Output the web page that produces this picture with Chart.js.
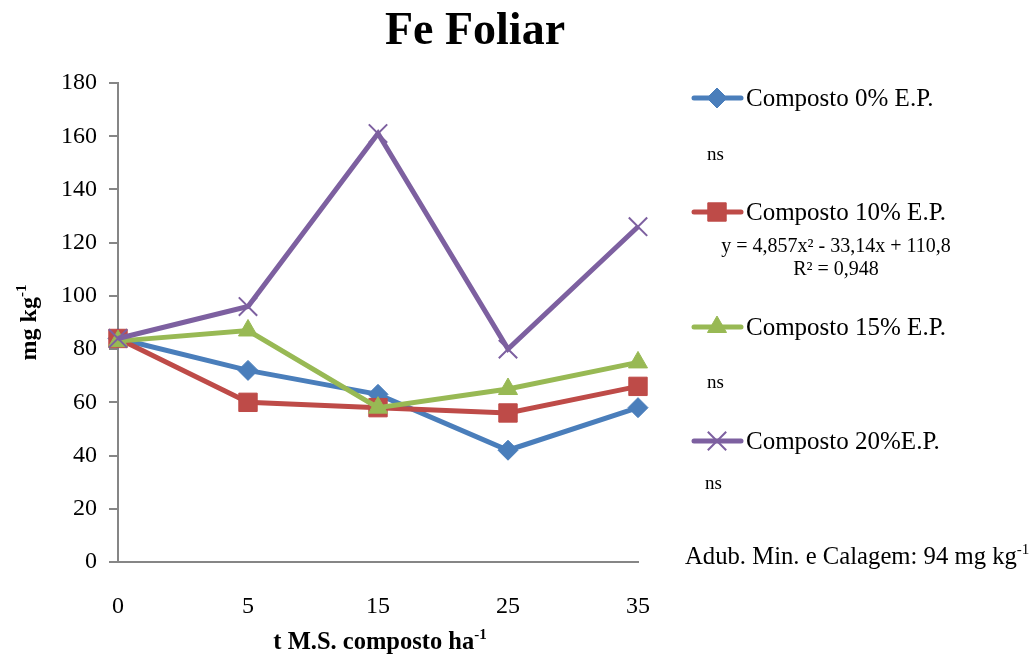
<!DOCTYPE html>
<html>
<head>
<meta charset="utf-8">
<title>Fe Foliar</title>
<script src="https://cdn.jsdelivr.net/npm/chart.js@4/dist/chart.umd.min.js"></script>
<style>
  html, body { margin: 0; padding: 0; background: #ffffff; }
  #wrap { position: relative; width: 1036px; height: 664px; }
</style>
</head>
<body>
<div id="wrap"><canvas id="chart" width="1036" height="664"></canvas></div>
<script>
// Doses of compost (t M.S. ha-1) on the category axis
const categories = ['0', '5', '15', '25', '35'];

// Foliar Fe (mg kg-1) for each compost blend
const composto0 = [84, 72, 63, 42, 58];
const composto10 = [84, 60, 58, 56, 66];
const composto15 = [83, 87, 58, 65, 75];
const composto20 = [84, 96, 161, 80, 126];

const seriesNames = ['Composto 0% E.P.', 'Composto 10% E.P.', 'Composto 15% E.P.', 'Composto 20%E.P.'];
const yTicks = [0, 20, 40, 60, 80, 100, 120, 140, 160, 180];

const SERIF = '"Liberation Serif", "Times New Roman", serif';
const AXIS_GREY = '#868686';

function lineSeries(label, data, color, style, radius, order) {
  return {
    label: label,
    data: data,
    borderColor: color,
    backgroundColor: color,
    borderWidth: 5,
    pointStyle: style,
    pointRadius: radius,
    pointHoverRadius: radius,
    pointBackgroundColor: color,
    pointBorderColor: color,
    pointBorderWidth: style === 'crossRot' ? 2 : 1,
    tension: 0,
    clip: false,
    order: order
  };
}

// Text written to the right of the plot: legend rows plus the regression notes
const legendRows = [98, 212, 327, 441];
const notes = [
  { text: 'ns', x: 707, y: 155, size: 19, align: 'left' },
  { text: 'y = 4,857x² - 33,14x + 110,8', x: 836, y: 247, size: 20, align: 'center' },
  { text: 'R² = 0,948', x: 836, y: 270, size: 20, align: 'center' },
  { text: 'ns', x: 707, y: 383, size: 19, align: 'left' },
  { text: 'ns', x: 705, y: 484, size: 19, align: 'left' }
];

function drawMarker(ctx, style, radius, x, y, color, borderWidth) {
  ctx.save();
  ctx.fillStyle = color;
  ctx.strokeStyle = color;
  ctx.lineWidth = borderWidth;
  if (Chart.helpers && Chart.helpers.drawPoint) {
    Chart.helpers.drawPoint(ctx, { pointStyle: style, radius: radius, rotation: 0, borderWidth: borderWidth }, x, y);
  }
  ctx.restore();
}

// Draws text with a trailing superscript part
function textWithSup(ctx, base, sup, x, y, size, bold, align) {
  const weight = bold ? 'bold ' : '';
  ctx.font = weight + size + 'px ' + SERIF;
  const wBase = ctx.measureText(base).width;
  ctx.font = weight + Math.round(size * 0.62) + 'px ' + SERIF;
  const wSup = ctx.measureText(sup).width;
  const total = wBase + wSup;
  let start = x;
  if (align === 'center') start = x - total / 2;
  ctx.textAlign = 'left';
  ctx.textBaseline = 'alphabetic';
  ctx.font = weight + size + 'px ' + SERIF;
  ctx.fillText(base, start, y);
  ctx.font = weight + Math.round(size * 0.62) + 'px ' + SERIF;
  ctx.fillText(sup, start + wBase, y - size * 0.42);
}

const decorations = {
  id: 'decorations',
  afterDraw(chart) {
    const ctx = chart.ctx;
    const area = chart.chartArea;
    ctx.save();
    ctx.fillStyle = '#000000';

    // Title
    ctx.font = 'bold 46px ' + SERIF;
    ctx.textAlign = 'center';
    ctx.textBaseline = 'alphabetic';
    ctx.fillText('Fe Foliar', 475, 44);

    // X axis title
    textWithSup(ctx, 't M.S. composto ha', '-1', (area.left + area.right) / 2 + 2, 649, 24.5, true, 'center');

    // Y axis title (rotated)
    ctx.save();
    ctx.translate(36, (area.top + area.bottom) / 2);
    ctx.rotate(-Math.PI / 2);
    textWithSup(ctx, 'mg kg', '-1', 0, 0, 24, true, 'center');
    ctx.restore();

    // Legend rows
    chart.data.datasets.forEach((ds, i) => {
      const y = legendRows[i];
      ctx.save();
      ctx.strokeStyle = ds.borderColor;
      ctx.lineWidth = 5;
      ctx.lineCap = 'round';
      ctx.beginPath();
      ctx.moveTo(694, y);
      ctx.lineTo(741, y);
      ctx.stroke();
      ctx.restore();
      drawMarker(ctx, ds.pointStyle, ds.pointRadius, 717, y, ds.pointBackgroundColor, ds.pointBorderWidth);
      ctx.fillStyle = '#000000';
      ctx.font = '25px ' + SERIF;
      ctx.textAlign = 'left';
      ctx.textBaseline = 'middle';
      ctx.fillText(ds.label, 746, y + 1);
    });

    // Notes under each legend entry
    notes.forEach(n => {
      ctx.font = n.size + 'px ' + SERIF;
      ctx.textAlign = n.align;
      ctx.textBaseline = 'middle';
      ctx.fillText(n.text, n.x, n.y);
    });

    // Reference value for mineral fertilisation
    textWithSup(ctx, 'Adub. Min. e Calagem: 94 mg kg', '-1', 685, 564, 24.7, false, 'left');

    ctx.restore();
  }
};

new Chart(document.getElementById('chart'), {
  type: 'line',
  data: {
    labels: categories,
    datasets: [
      lineSeries(seriesNames[0], composto0, '#4A7EBB', 'rectRot', 10, 3),
      lineSeries(seriesNames[1], composto10, '#BE4B48', 'rect', 13, 2),
      lineSeries(seriesNames[2], composto15, '#98B954', 'triangle', 11, 1),
      lineSeries(seriesNames[3], composto20, '#7D60A0', 'crossRot', 13, 0)
    ]
  },
  options: {
    responsive: false,
    animation: false,
    events: [],
    layout: { padding: { left: 0, top: 83, right: 398, bottom: 0 } },
    plugins: {
      legend: { display: false },
      title: { display: false },
      tooltip: { enabled: false }
    },
    scales: {
      x: {
        type: 'category',
        offset: false,
        grid: { display: false },
        border: { display: true, color: AXIS_GREY, width: 2 },
        ticks: {
          color: '#000000',
          font: { family: SERIF, size: 24 },
          padding: 22,
          maxRotation: 0,
          autoSkip: false
        },
        afterFit(scale) { scale.height = 102; }
      },
      y: {
        min: 0,
        max: 180,
        afterBuildTicks(scale) { scale.ticks = yTicks.map(v => ({ value: v })); },
        grid: {
          display: true,
          drawOnChartArea: false,
          drawTicks: true,
          tickLength: 9,
          color: AXIS_GREY,
          lineWidth: 2
        },
        border: { display: true, color: AXIS_GREY, width: 2 },
        ticks: {
          color: '#000000',
          font: { family: SERIF, size: 24 },
          padding: 12
        },
        afterFit(scale) { scale.width = 118; }
      }
    }
  },
  plugins: [decorations]
});
</script>
</body>
</html>
